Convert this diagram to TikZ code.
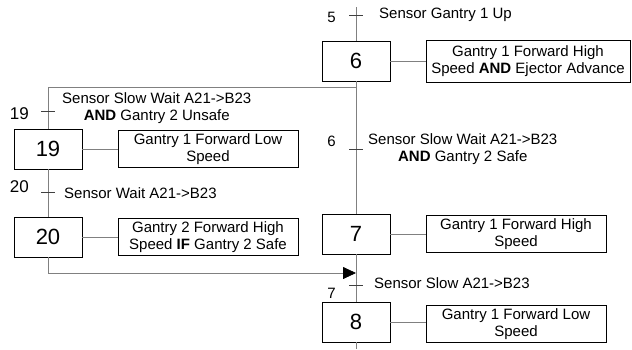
\documentclass[tikz,border=0pt]{standalone}
\usepackage{fontspec}
\setmainfont{Liberation Sans}
\usetikzlibrary{arrows.meta, positioning, calc}

\begin{document}
\begin{tikzpicture}[
    x=1pt, y=1pt,
    node distance=160pt,
    stepbox/.style={rectangle, draw, line width=0.8pt, minimum width=68pt, minimum height=40pt, font=\fontsize{22}{24}\selectfont},
    action/.style={rectangle, draw, line width=0.8pt, minimum width=180pt, minimum height=37pt, inner sep=1pt, align=center, font=\fontsize{15}{17}\selectfont},
    cond/.style={align=center, inner sep=0pt, font=\fontsize{15}{17}\selectfont},
    num/.style={inner sep=0pt, font=\fontsize{15}{17}\selectfont},
    bignum/.style={inner sep=0pt, font=\fontsize{17}{19}\selectfont},
    link/.style={draw=gray, line width=0.8pt},
    tick/.style={draw=black!75, line width=0.8pt}
]
\useasboundingbox (0,0) rectangle (632,-349);

% Steps
\node[stepbox] (step6) at (356,-61) {6};
\node[stepbox, below of=step6, yshift=-13pt] (step7) {7};
\node[stepbox, below of=step7, yshift=72pt] (step8) {8};
\node[stepbox] (step19) at (48,-149) {19};
\node[stepbox, below of=step19, yshift=72pt] (step20) {20};

% Actions
\node[action, right of=step6, xshift=12pt, minimum width=204pt, minimum height=42pt] (act6) {Gantry 1 Forward High\\Speed \textbf{AND} Ejector Advance};
\node[action, right of=step7] (act7) {Gantry 1 Forward High\\Speed};
\node[action, right of=step8, yshift=-2pt] (act8) {Gantry 1 Forward Low\\Speed};
\node[action, right of=step19] (act19) {Gantry 1 Forward Low\\Speed};
\node[action, right of=step20] (act20) {Gantry 2 Forward High\\Speed \textbf{IF} Gantry 2 Safe};

% Transitions
\coordinate (top) at (356,-7);
\coordinate (bot) at (356,-349);
\coordinate (fork) at (356,-87);
\coordinate (merge) at (356,-273);
\coordinate (t5) at (356,-15);
\coordinate (t6) at (356,-149);
\coordinate (t7) at (356,-285);
\coordinate (t19) at (48,-111);
\coordinate (t20) at (48,-192);

% Links
\draw[link] (top) -- (step6.north);
\draw[link] (step6.south) -- (step7.north);
\draw[link] (step7.south) -- (step8.north);
\draw[link] (step8.south) -- (bot);
\draw[link] (fork) -| (step19.north);
\draw[link] (step19.south) -- (step20.north);
\draw[link, -{Triangle[length=13pt, width=12pt, color=black]}] (step20.south) |- (merge);
\foreach \n in {6,7,8,19,20}
    \draw[link] (step\n.east) -- (step\n.east -| act\n.west);
\foreach \t in {t5,t6,t7,t19,t20}
    \draw[tick] ([xshift=-7pt]\t) -- ([xshift=7pt]\t);

% Labels
\node[num, left=20pt of t5, yshift=-2.5pt] (n5) {5};
\node[num, left=20pt of t6, yshift=8pt] (n6) {6};
\node[num, left=20pt of t7, yshift=-8pt] (n7) {7};
\node[bignum, left=19pt of t19, yshift=-3pt] (n19) {19};
\node[bignum, left=19pt of t20, yshift=5pt] (n20) {20};

\node[cond, right=23pt of t5] (c5) {Sensor Gantry 1 Up};
\node[cond, right=12pt of t6] (c6) {Sensor Slow Wait A21->B23\\\textbf{AND} Gantry 2 Safe};
\node[cond, right=18pt of t7, yshift=2pt] (c7) {Sensor Slow A21->B23};
\node[cond, right=14pt of t19, yshift=2.5pt] (c19) {Sensor Slow Wait A21->B23\\\textbf{AND} Gantry 2 Unsafe};
\node[cond, right=16pt of t20, yshift=-1pt] (c20) {Sensor Wait A21->B23};

\end{tikzpicture}
\end{document}
